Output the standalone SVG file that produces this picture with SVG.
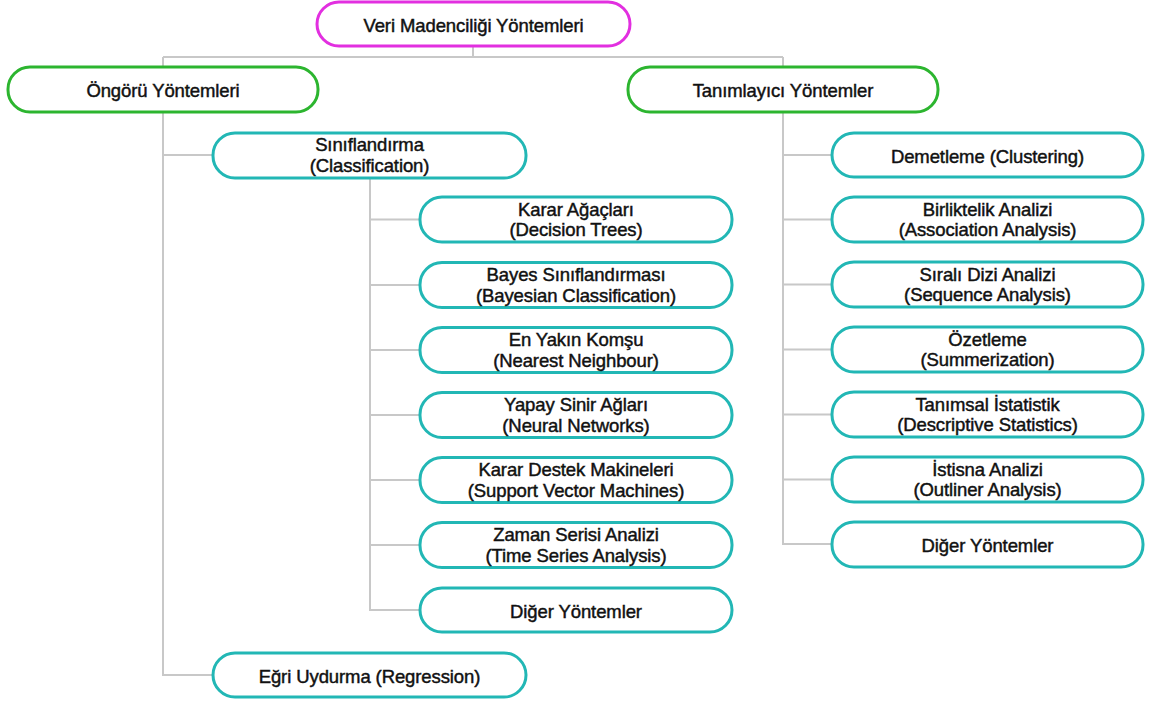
<svg xmlns="http://www.w3.org/2000/svg" width="1155" height="704" viewBox="0 0 1155 704">
  <style>
    .box { fill: #ffffff; stroke-width: 3; }
    .root { stroke: #e22fe0; }
    .grp { stroke: #2cb52f; }
    .leaf { stroke: #22b7b5; }
    .lbl { font-family: "Liberation Sans", Arial, sans-serif; font-size: 18.5px; fill: #111111; stroke: #111111; stroke-width: 0.45px; text-anchor: middle; letter-spacing: -0.1px; }
    .wire { fill: none; stroke: #c8c8c8; stroke-width: 2; }
  </style>

  <!-- connectors -->
  <g id="connectors">
    <path class="wire" d="M473 46 V57 M163 57 H783 M163 57 V675 H213 M783 57 V544 H832"/>
    <path class="wire" d="M163 155 H213"/>
    <path class="wire" d="M370 178 V610 H420"/>
    <path class="wire" d="M370 219.5 H420 M370 285 H420 M370 350 H420 M370 415 H420 M370 480 H420 M370 545 H420"/>
    <path class="wire" d="M783 155 H832 M783 219.5 H832 M783 284.5 H832 M783 349.5 H832 M783 414.5 H832 M783 479.5 H832"/>
  </g>

  <!-- root -->
  <g id="root">
    <rect class="box root" x="317" y="2" width="313" height="44" rx="22"/>
    <text class="lbl" x="473.5" y="31.5">Veri Madenciliği Yöntemleri</text>
  </g>

  <!-- second level -->
  <g id="ongoru">
    <rect class="box grp" x="8" y="67" width="310" height="45" rx="22"/>
    <text class="lbl" x="163" y="97">Öngörü Yöntemleri</text>
  </g>
  <g id="tanimlayici">
    <rect class="box grp" x="628" y="67" width="310" height="45" rx="22"/>
    <text class="lbl" x="783" y="97">Tanımlayıcı Yöntemler</text>
  </g>

  <!-- predictive methods -->
  <g id="siniflandirma">
    <rect class="box leaf" x="213" y="133" width="313" height="45" rx="22"/>
    <text class="lbl" x="369.5" y="151">Sınıflandırma</text>
    <text class="lbl" x="369.5" y="171.5">(Classification)</text>
  </g>
  <g id="regresyon">
    <rect class="box leaf" x="213" y="653" width="313" height="44" rx="22"/>
    <text class="lbl" x="369.5" y="682.5">Eğri Uydurma (Regression)</text>
  </g>

  <!-- classification methods -->
  <g id="karar-agaclari">
    <rect class="box leaf" x="420" y="197" width="312" height="45" rx="22"/>
    <text class="lbl" x="576" y="215.5">Karar Ağaçları</text>
    <text class="lbl" x="576" y="236">(Decision Trees)</text>
  </g>
  <g id="bayes">
    <rect class="box leaf" x="420" y="262.5" width="312" height="45" rx="22"/>
    <text class="lbl" x="576" y="281">Bayes Sınıflandırması</text>
    <text class="lbl" x="576" y="301.5">(Bayesian Classification)</text>
  </g>
  <g id="en-yakin-komsu">
    <rect class="box leaf" x="420" y="327.5" width="312" height="45" rx="22"/>
    <text class="lbl" x="576" y="346">En Yakın Komşu</text>
    <text class="lbl" x="576" y="366.5">(Nearest Neighbour)</text>
  </g>
  <g id="yapay-sinir-aglari">
    <rect class="box leaf" x="420" y="392.5" width="312" height="45" rx="22"/>
    <text class="lbl" x="576" y="411">Yapay Sinir Ağları</text>
    <text class="lbl" x="576" y="431.5">(Neural Networks)</text>
  </g>
  <g id="destek-vektor">
    <rect class="box leaf" x="420" y="457.5" width="312" height="45" rx="22"/>
    <text class="lbl" x="576" y="476">Karar Destek Makineleri</text>
    <text class="lbl" x="576" y="496.5">(Support Vector Machines)</text>
  </g>
  <g id="zaman-serisi">
    <rect class="box leaf" x="420" y="522.5" width="312" height="45" rx="22"/>
    <text class="lbl" x="576" y="541">Zaman Serisi Analizi</text>
    <text class="lbl" x="576" y="561.5">(Time Series Analysis)</text>
  </g>
  <g id="diger-siniflandirma">
    <rect class="box leaf" x="420" y="588" width="312" height="44" rx="22"/>
    <text class="lbl" x="576" y="617.5">Diğer Yöntemler</text>
  </g>

  <!-- descriptive methods -->
  <g id="demetleme">
    <rect class="box leaf" x="832" y="133" width="311" height="44" rx="22"/>
    <text class="lbl" x="987.5" y="162.5">Demetleme (Clustering)</text>
  </g>
  <g id="birliktelik">
    <rect class="box leaf" x="832" y="197" width="311" height="45" rx="22"/>
    <text class="lbl" x="987.5" y="215.5">Birliktelik Analizi</text>
    <text class="lbl" x="987.5" y="236">(Association Analysis)</text>
  </g>
  <g id="sirali-dizi">
    <rect class="box leaf" x="832" y="262" width="311" height="45" rx="22"/>
    <text class="lbl" x="987.5" y="280.5">Sıralı Dizi Analizi</text>
    <text class="lbl" x="987.5" y="301">(Sequence Analysis)</text>
  </g>
  <g id="ozetleme">
    <rect class="box leaf" x="832" y="327" width="311" height="45" rx="22"/>
    <text class="lbl" x="987.5" y="345.5">Özetleme</text>
    <text class="lbl" x="987.5" y="366">(Summerization)</text>
  </g>
  <g id="tanimsal-istatistik">
    <rect class="box leaf" x="832" y="392" width="311" height="45" rx="22"/>
    <text class="lbl" x="987.5" y="410.5">Tanımsal İstatistik</text>
    <text class="lbl" x="987.5" y="431">(Descriptive Statistics)</text>
  </g>
  <g id="istisna">
    <rect class="box leaf" x="832" y="457" width="311" height="45" rx="22"/>
    <text class="lbl" x="987.5" y="475.5">İstisna Analizi</text>
    <text class="lbl" x="987.5" y="496">(Outliner Analysis)</text>
  </g>
  <g id="diger-tanimlayici">
    <rect class="box leaf" x="832" y="522" width="311" height="45" rx="22"/>
    <text class="lbl" x="987.5" y="552">Diğer Yöntemler</text>
  </g>
</svg>
